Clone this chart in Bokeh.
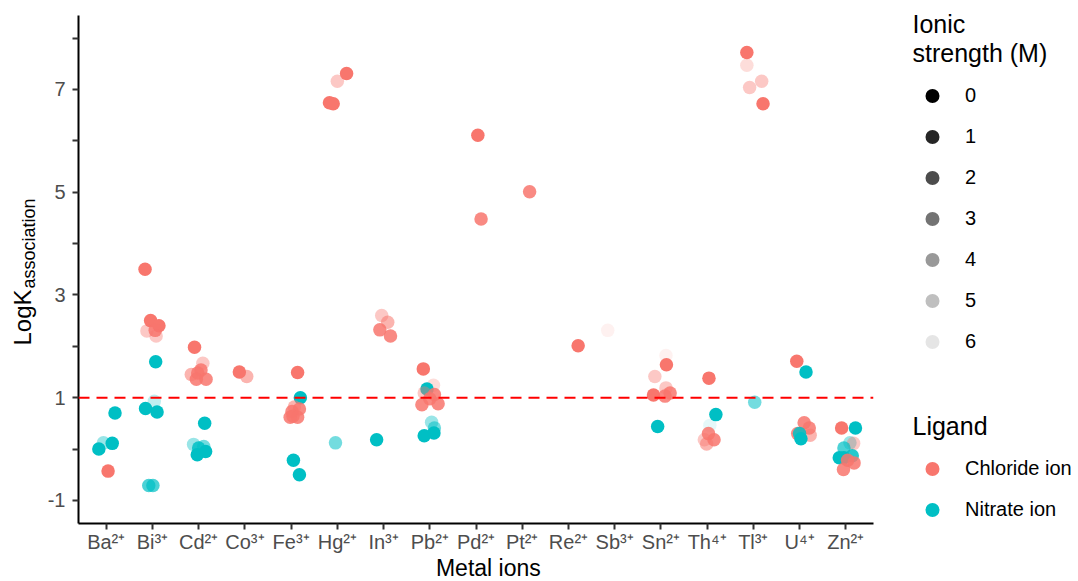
import math
from bokeh.plotting import figure
from bokeh.layouts import row, column
from bokeh.models import Range1d, FixedTicker, Span, Legend, LegendItem, ColumnDataSource
from bokeh.core.properties import value
from bokeh.embed import file_html
from bokeh.resources import INLINE

# ---------------- data ----------------
metals = ["Ba²⁺", "Bi³⁺", "Cd²⁺", "Co³⁺", "Fe³⁺", "Hg²⁺", "In³⁺", "Pb²⁺", "Pd²⁺",
          "Pt²⁺", "Re²⁺", "Sb³⁺", "Sn²⁺", "Th⁴⁺", "Tl³⁺", "U⁴⁺", "Zn²⁺"]
ligands = ["Chloride ion", "Nitrate ion"]
ionic_levels = [0, 1, 2, 3, 4, 5, 6]
y_ticks = [-1, 0, 1, 2, 3, 4, 5, 6, 7, 8]
y_tick_labels = ["-1", "", "1", "", "3", "", "5", "", "7", ""]

# per point: metal, ligand (C = chloride, N = nitrate), ionic strength (M), logK, jitter
pt_metal = (["Ba²⁺"] * 5 + ["Bi³⁺"] * 12 + ["Cd²⁺"] * 13 + ["Co³⁺"] * 2 + ["Fe³⁺"] * 10 +
            ["Hg²⁺"] * 5 + ["In³⁺"] * 5 + ["Pb²⁺"] * 12 + ["Pd²⁺"] * 2 + ["Pt²⁺"] + ["Re²⁺"] +
            ["Sb³⁺"] + ["Sn²⁺"] * 8 + ["Th⁴⁺"] * 7 + ["Tl³⁺"] * 6 + ["U⁴⁺"] * 8 + ["Zn²⁺"] * 11)
pt_ligand = ("NNNNC" + "CCCCCCNNNNNN" + "CCCCCCCNNNNNN" + "CC" + "CNCCCCCCNN" +
             "NCCCC" + "CCCCN" + "CCNCCCCCNNNN" + "CC" + "C" + "C" + "C" + "CCCCCCCN" +
             "CNNCCCC" + "NCCCCC" + "CNCCCCNN" + "CNNCNNNNCCC")
pt_ionic = [0, 4, 0, 0, 0,
            0, 0, 0, 4, 1, 4, 0, 5, 0, 0, 2, 2,
            0, 4, 3, 1, 1, 1, 1, 0, 4, 1, 3, 0, 0,
            0, 3,
            0, 0, 3, 1, 1, 1, 1, 1, 0, 0,
            3, 0, 0, 4, 0,
            4, 3, 1, 1, 0,
            0, 5, 0, 4, 1, 1, 1, 1, 4, 3, 0, 0,
            0, 1,
            1,
            0,
            6,
            6, 0, 4, 4, 1, 0, 1, 0,
            0, 0, 6, 1, 4, 1, 3,
            3, 0, 5, 4, 4, 0,
            0, 0, 1, 1, 3, 1, 1, 0,
            0, 0, 4, 4, 2, 0, 0, 1, 1, 1, 1]
pt_logk = [0.00, 0.12, 0.11, 0.70, -0.43,
           3.50, 2.50, 2.40, 2.30, 2.31, 2.20, 1.70, 0.93, 0.79, 0.72, -0.71, -0.71,
           1.98, 1.67, 1.45, 1.54, 1.48, 1.36, 1.36, 0.50, 0.09, 0.02, 0.05, -0.11, -0.05,
           1.50, 1.41,
           1.49, 1.00, 0.82, 0.78, 0.73, 0.64, 0.62, 0.62, -0.22, -0.50,
           0.12, 6.74, 6.72, 7.16, 7.31,
           2.60, 2.47, 2.32, 2.20, 0.18,
           1.56, 1.24, 1.17, 1.09, 1.06, 0.86, 0.88, 0.98, 0.52, 0.41, 0.31, 0.26,
           6.11, 4.48,
           5.01,
           2.01,
           2.31,
           1.82, 1.64, 1.41, 1.19, 1.09, 1.05, 1.03, 0.44,
           1.38, 0.67, 0.46, 0.30, 0.18, 0.18, 0.10,
           0.91, 7.72, 7.47, 7.16, 7.04, 6.72,
           1.71, 1.50, 0.51, 0.41, 0.27, 0.30, 0.30, 0.20,
           0.41, 0.41, 0.12, 0.11, 0.02, -0.17, -0.17, -0.13, -0.27, -0.40, -0.22]
pt_jitter = [-0.16, -0.06, 0.13, 0.19, 0.04,
             -0.16, -0.04, 0.14, -0.12, 0.06, 0.08, 0.07, 0.04, -0.15, 0.10, -0.08, 0.01,
             -0.09, 0.09, -0.16, 0.05, -0.02, -0.05, 0.16, 0.13, -0.11, 0.00, 0.11, -0.03, 0.15,
             -0.12, 0.04,
             0.14, 0.20, 0.07, 0.18, 0.02, 0.04, 0.14, -0.02, 0.05, 0.18,
             -0.04, -0.17, -0.09, 0.00, 0.20,
             -0.04, 0.09, -0.08, 0.15, -0.15,
             -0.14, 0.08, -0.06, -0.12, 0.10, -0.17, 0.18, 0.00, 0.04, 0.10, 0.09, -0.12,
             0.04, 0.11,
             0.16,
             0.21,
             -0.15,
             0.11, 0.12, -0.13, 0.11, 0.20, -0.16, 0.09, -0.07,
             0.04, 0.19, 0.06, 0.03, -0.06, 0.15, -0.01,
             0.03, -0.14, -0.14, 0.18, -0.08, 0.21,
             -0.06, 0.14, 0.10, 0.21, 0.23, -0.04, 0.00, 0.03,
             -0.09, 0.21, 0.09, 0.17, -0.04, -0.14, -0.04, 0.14, 0.18, -0.05, 0.04]

lig_colors = {"C": "#F8766D", "N": "#00BFC4"}
lig_palette = ["#F8766D", "#00BFC4"]


def alpha_of(i):
    return 1.0 - 0.15 * i


src = ColumnDataSource(dict(
    x=[metals.index(m) + 1 + j for m, j in zip(pt_metal, pt_jitter)],
    y=pt_logk,
    color=[lig_colors[c] for c in pt_ligand],
    alpha=[alpha_of(i) for i in pt_ionic],
))

FONT = "Liberation Sans"
TOTAL_W, TOTAL_H = 1076, 580

# page layout (pixels from top-left of page)
LEFT_W = 44
MAIN_W = 836
RIGHT_W = TOTAL_W - LEFT_W - MAIN_W
MAIN_H = 556
BOT_H = TOTAL_H - MAIN_H
FRAME_L, FRAME_R, FRAME_T, FRAME_B = 77, 873, 15, 523

x0, x1 = 0.4, 17.6
y0, y1 = -1.45, 8.44


def blank_fig(w, h, xr):
    f = figure(width=w, height=h, output_backend="svg", toolbar_location=None, title=None,
               x_range=Range1d(*xr), y_range=Range1d(0, h),
               x_axis_location=None, y_axis_location=None,
               min_border=0, min_border_left=0, min_border_right=0,
               min_border_top=0, min_border_bottom=0)
    f.outline_line_color = None
    f.xgrid.visible = False
    f.ygrid.visible = False
    f.background_fill_color = "white"
    f.border_fill_color = "white"
    return f


# ---------------- main plot ----------------
p = figure(width=MAIN_W, height=MAIN_H, output_backend="svg", toolbar_location=None,
           title=None, x_range=Range1d(x0, x1), y_range=Range1d(y0, y1),
           min_border_left=FRAME_L - LEFT_W, min_border_right=LEFT_W + MAIN_W - FRAME_R,
           min_border_top=FRAME_T, min_border_bottom=MAIN_H - FRAME_B)
p.outline_line_color = None
p.xgrid.visible = False
p.ygrid.visible = False
p.background_fill_color = "white"
p.border_fill_color = "white"

for ax in (p.xaxis[0], p.yaxis[0]):
    ax.axis_line_color = "black"
    ax.axis_line_width = 2
    ax.major_tick_line_color = "#333333"
    ax.major_tick_line_width = 2
    ax.major_tick_out = 6
    ax.major_tick_in = 0
    ax.minor_tick_line_color = None
    ax.major_label_text_font = FONT
    ax.major_label_text_font_size = "20px"
    ax.major_label_text_color = "#4D4D4D"

p.xaxis.ticker = FixedTicker(ticks=list(range(1, len(metals) + 1)))
p.xaxis.major_label_overrides = {i + 1: m for i, m in enumerate(metals)}
p.xaxis.major_label_standoff = 1
p.yaxis.ticker = FixedTicker(ticks=y_ticks)
p.yaxis.major_label_overrides = {t: l for t, l in zip(y_ticks, y_tick_labels)}
p.yaxis.major_label_standoff = 7

p.scatter("x", "y", source=src, size=13.5, fill_color="color", fill_alpha="alpha",
          line_color=None)

p.add_layout(Span(location=1, dimension="width", line_color="red", line_width=2,
                  line_dash="11 7"))

# ---------------- left strip: y title ----------------
left = blank_fig(LEFT_W, TOTAL_H, (0, LEFT_W))
left.text(x=[22], y=[TOTAL_H - 289], text=["LogK"], angle=math.pi / 2,
          text_font=value(FONT), text_font_size="24px", text_color="black",
          text_align="right", text_baseline="middle")
left.text(x=[28], y=[TOTAL_H - 288], text=["association"], angle=math.pi / 2,
          text_font=value(FONT), text_font_size="18px", text_color="black",
          text_align="left", text_baseline="middle")

# ---------------- bottom strip: x title ----------------
bottom = blank_fig(MAIN_W, BOT_H, (LEFT_W, LEFT_W + MAIN_W))
bottom.text(x=[(FRAME_L + FRAME_R) / 2], y=[TOTAL_H - 567], text=["Metal ions"],
            text_font=value(FONT), text_font_size="23px", text_color="black",
            text_align="center", text_baseline="middle")

# ---------------- right strip: legends ----------------
RX0 = LEFT_W + MAIN_W
right = blank_fig(RIGHT_W, TOTAL_H, (RX0, RX0 + RIGHT_W))
right.text(x=[912, 912, 912], y=[TOTAL_H - 23.5, TOTAL_H - 52.5, TOTAL_H - 425],
           text=["Ionic", "strength (M)", "Ligand"],
           text_font=value(FONT), text_font_size="25px", text_color="black",
           text_align="left", text_baseline="middle")

NAN = float("nan")
ion_items = []
for lev in ionic_levels:
    r = right.scatter([NAN], [NAN], size=14, fill_color="black", fill_alpha=alpha_of(lev),
                      line_color=None)
    ion_items.append(LegendItem(label=str(lev), renderers=[r]))
lig_items = []
for lab, col in zip(ligands, lig_palette):
    r = right.scatter([NAN], [NAN], size=14, fill_color=col, line_color=None)
    lig_items.append(LegendItem(label=lab, renderers=[r]))

GH, SP = 35, 6


def make_legend(items, top_page):
    n = len(items)
    h = n * GH + (n - 1) * SP
    bottom_page = top_page + h
    return Legend(items=items, location=(912 - RX0, TOTAL_H - bottom_page),
                  orientation="vertical", padding=0, margin=0, spacing=SP,
                  glyph_width=40, glyph_height=GH, label_standoff=13,
                  label_text_font=FONT, label_text_font_size="20px", label_text_color="black",
                  label_text_baseline="middle",
                  border_line_color=None, background_fill_alpha=0)


right.add_layout(make_legend(ion_items, 95 - GH / 2))
right.add_layout(make_legend(lig_items, 468 - GH / 2))

layout = row(left, column(p, bottom), right)
open("out.html", "w").write(file_html(layout, INLINE))
